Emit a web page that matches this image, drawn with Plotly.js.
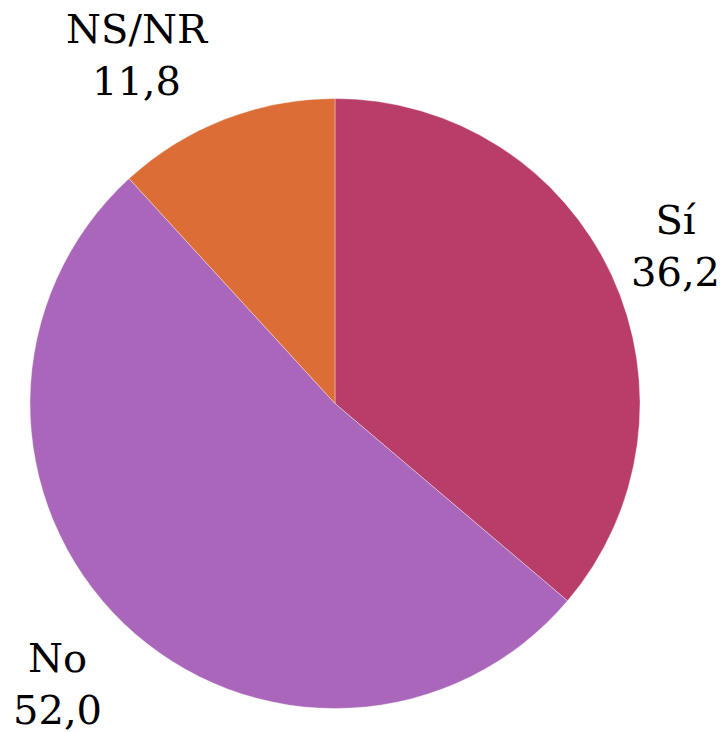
<!DOCTYPE html>
<html><head><meta charset="utf-8">
<script src="https://cdn.plot.ly/plotly-3.0.1.min.js"></script>
<style>
html,body{margin:0;padding:0;background:#fff;}
#chart svg text, #chart svg tspan { font-family: 'DejaVu Serif', 'Liberation Serif', serif !important; }
</style>
</head><body>
<div id="chart" style="width:724px;height:732px;"></div>
<script>
const categories = ["Sí", "No", "NS/NR"];
const values = [36.2, 52.0, 11.8];
const valueLabels = ["36,2", "52,0", "11,8"];
const colors = ["#B83D69", "#AA66BB", "#DD6D36"];

const W = 724, H = 732;
const cx = 335, cy = 403.5, R = 305;
// label pixel offsets from the slice's rim midpoint
const labelShift = [[64, 29], [-66, -61], [-87.5, 64]];

const total = values.reduce((a, b) => a + b, 0);
let cum = 0;
const annotations = values.map((v, i) => {
  const mid = (cum + v / 2) / total * 2 * Math.PI;
  cum += v;
  const px = cx + R * Math.sin(mid);
  const py = cy - R * Math.cos(mid);
  return {
    x: px / W, y: 1 - py / H, xref: 'paper', yref: 'paper',
    text: categories[i] + '<br>' + valueLabels[i],
    showarrow: false, xanchor: 'center', yanchor: 'middle', align: 'center',
    xshift: labelShift[i][0], yshift: labelShift[i][1],
    font: {family: 'DejaVu Serif', size: 40, color: '#000'}
  };
});

const trace = {
  type: 'pie', labels: categories, values: values, sort: false,
  direction: 'clockwise', rotation: 0, textinfo: 'none', hoverinfo: 'none',
  marker: {colors: colors, line: {color: 'rgba(255,255,255,0.6)', width: 0.6}},
  domain: {x: [(cx - R) / W, (cx + R) / W], y: [1 - (cy + R) / H, 1 - (cy - R) / H]},
  showlegend: false
};

Plotly.newPlot('chart', [trace], {
  width: W, height: H, margin: {l: 0, r: 0, t: 0, b: 0},
  font: {family: 'DejaVu Serif'},
  paper_bgcolor: '#fff', plot_bgcolor: '#fff', showlegend: false,
  annotations: annotations
}, {displayModeBar: false, staticPlot: true});
</script>
</body></html>
